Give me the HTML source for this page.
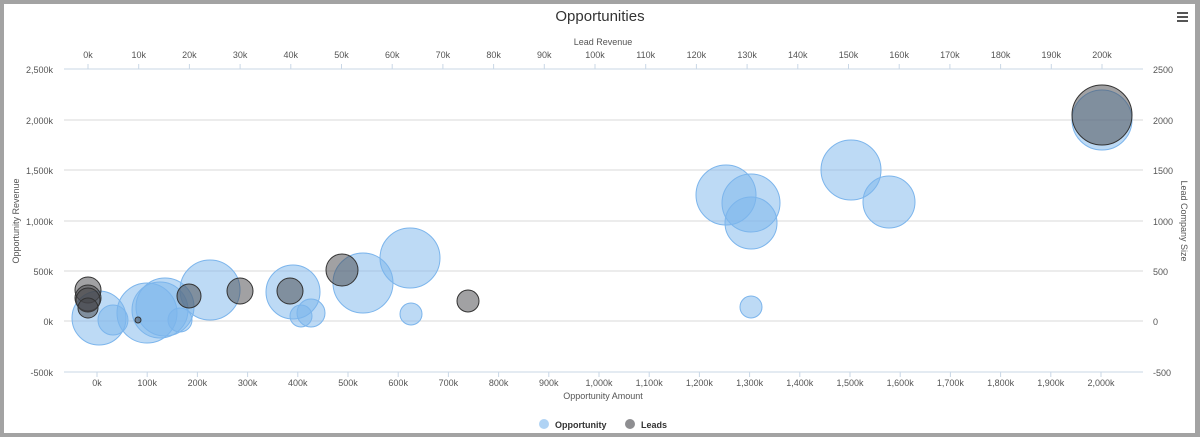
<!DOCTYPE html>
<html><head><meta charset="utf-8"><style>
html,body{margin:0;padding:0;background:#a0a0a0;}
svg{display:block;font-family:"Liberation Sans",sans-serif;}
</style></head><body>
<svg width="1200" height="437" xmlns="http://www.w3.org/2000/svg">
<rect x="0" y="0" width="1200" height="437" fill="#a3a3a3"/>
<rect x="4" y="4" width="1191" height="429" fill="#fff"/>
<text x="600" y="21" text-anchor="middle" font-size="15" fill="#333">Opportunities</text>
<g fill="#555"><rect x="1177" y="12" width="11" height="2"/><rect x="1177" y="16" width="11" height="2"/><rect x="1177" y="20" width="11" height="2"/></g>
<g stroke="#d8d8d8" stroke-width="1">
<line x1="64" x2="1143" y1="120" y2="120"/><line x1="64" x2="1143" y1="170" y2="170"/>
<line x1="64" x2="1143" y1="221" y2="221"/><line x1="64" x2="1143" y1="271" y2="271"/>
<line x1="64" x2="1143" y1="321" y2="321"/>
</g>
<line x1="64" x2="1143" y1="69" y2="69" stroke="#c9d7e6"/>
<line x1="64" x2="1143" y1="372" y2="372" stroke="#c9d7e6"/>
<g id="ticks" stroke="#c9d7e6"></g>
<g font-size="9" fill="#555" text-anchor="end">
<text x="53" y="73">2,500k</text><text x="53" y="124">2,000k</text><text x="53" y="174">1,500k</text>
<text x="53" y="225">1,000k</text><text x="53" y="275">500k</text><text x="53" y="325">0k</text><text x="53" y="376">-500k</text>
</g>
<g font-size="9" fill="#555" text-anchor="start">
<text x="1153" y="73">2500</text><text x="1153" y="124">2000</text><text x="1153" y="174">1500</text>
<text x="1153" y="225">1000</text><text x="1153" y="275">500</text><text x="1153" y="325">0</text><text x="1153" y="376">-500</text>
</g>
<g font-size="9" fill="#555" text-anchor="middle" id="xl"></g>
<text x="603" y="45" text-anchor="middle" font-size="9" fill="#555">Lead Revenue</text>
<text x="603" y="399" text-anchor="middle" font-size="9" fill="#555">Opportunity Amount</text>
<text transform="translate(19,221) rotate(-90)" text-anchor="middle" font-size="9" fill="#555">Opportunity Revenue</text>
<text transform="translate(1181,221) rotate(90)" text-anchor="middle" font-size="9" fill="#555">Lead Company Size</text>
<g fill="rgba(124,181,236,0.5)" stroke="rgb(124,181,236)" stroke-width="1">
<circle cx="99" cy="318" r="27"/><circle cx="113" cy="320" r="15"/><circle cx="147" cy="313" r="30"/>
<circle cx="160" cy="310" r="28"/><circle cx="165" cy="307" r="29"/><circle cx="180" cy="320" r="12"/>
<circle cx="210" cy="290" r="30"/><circle cx="293" cy="292" r="27"/><circle cx="301" cy="316" r="11"/>
<circle cx="311" cy="313" r="14"/><circle cx="363" cy="283" r="30"/><circle cx="410" cy="258" r="30"/>
<circle cx="411" cy="314" r="11"/><circle cx="726" cy="195" r="30"/><circle cx="751" cy="203" r="29"/>
<circle cx="751" cy="223" r="26"/><circle cx="751" cy="307" r="11"/><circle cx="851" cy="170" r="30"/>
<circle cx="889" cy="202" r="26"/><circle cx="1102" cy="120" r="30"/>
</g>
<g fill="rgba(67,67,72,0.5)" stroke="#333" stroke-width="1">
<circle cx="88" cy="290" r="13"/><circle cx="88" cy="298" r="13"/><circle cx="88" cy="300" r="12"/><circle cx="88" cy="308" r="10"/>
<circle cx="138" cy="320" r="3"/><circle cx="189" cy="296" r="12"/><circle cx="240" cy="291" r="13"/>
<circle cx="290" cy="291" r="13"/><circle cx="342" cy="270" r="16"/><circle cx="468" cy="301" r="11"/>
<circle cx="1102" cy="115" r="30"/>
</g>
<circle cx="544" cy="424" r="5" fill="rgba(124,181,236,0.6)"/>
<text x="555" y="428" font-size="9" font-weight="bold" fill="#333">Opportunity</text>
<circle cx="630" cy="424" r="5" fill="rgba(67,67,72,0.6)"/>
<text x="641" y="428" font-size="9" font-weight="bold" fill="#333">Leads</text>
<script>
var ns="http://www.w3.org/2000/svg",t=document.getElementById("ticks"),xl=document.getElementById("xl");
function ln(x,y1,y2){var l=document.createElementNS(ns,"line");l.setAttribute("x1",x);l.setAttribute("x2",x);l.setAttribute("y1",y1);l.setAttribute("y2",y2);t.appendChild(l);}
function tx(x,y,s){var e=document.createElementNS(ns,"text");e.setAttribute("x",x);e.setAttribute("y",y);e.textContent=s;xl.appendChild(e);}
for(var i=0;i<=20;i++){var x=88+i*50.7;ln(x,64,69);tx(x,58,(i*10)+"k");}
for(var i=0;i<=20;i++){var x=97+i*50.2;ln(x,372,377);var v=i*100;tx(x,386,(v>=1000?(Math.floor(v/1000)+","+String(v%1000).padStart(3,"0")):v)+"k");}
</script>
</svg>
</body></html>
